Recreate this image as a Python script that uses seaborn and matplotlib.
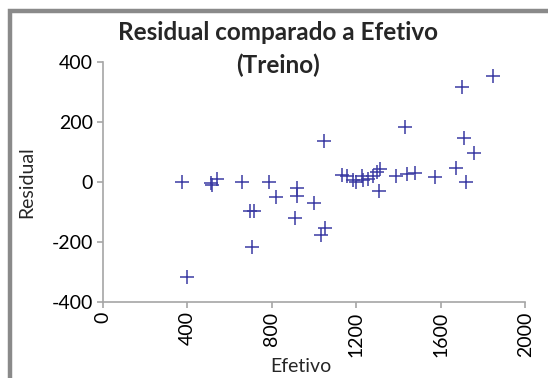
import matplotlib
matplotlib.use("Agg")
import matplotlib.pyplot as plt
import seaborn as sns
import pandas as pd
from matplotlib.patches import Rectangle

efetivo = [376, 399, 511, 518, 543, 660, 698, 718, 707, 789, 819, 912, 921, 921,
           998, 1047, 1031, 1054, 1134, 1155, 1183, 1197, 1226, 1233, 1257, 1281,
           1297, 1313, 1308, 1388, 1433, 1442, 1478, 1572, 1673, 1701, 1711, 1717,
           1755, 1846]
residual = [0, -319, -4, -10, 10, 0, -97, -97, -217, 0, -52, -119, -21, -47,
            -71, 135, -177, -155, 23, 18, 7, -2, 18, 7, 9, 18,
            34, 43, -29, 18, 183, 27, 29, 17, 47, 316, 145, 0,
            97, 354]

title_line1 = "Residual comparado a Efetivo"
title_line2 = "(Treino)"
xlabel = "Efetivo"
ylabel = "Residual"
xticks = [0, 400, 800, 1200, 1600, 2000]
yticks = [-400, -200, 0, 200, 400]

df = pd.DataFrame({"Efetivo": efetivo, "Residual": residual})

sns.set_theme(style="white")
plt.rcParams["font.family"] = ["Lato", "DejaVu Sans"]

W, H = 548, 378
fig = plt.figure(figsize=(W / 100, H / 100), dpi=100)
fig.patch.set_facecolor("white")
ax = fig.add_axes([102.7 / W, 1 - 301.7 / H, (525.3 - 102.7) / W, (301.7 - 62) / H])

sns.scatterplot(data=df, x="Efetivo", y="Residual", marker="+", s=95,
                color="#3B3BA3", linewidth=1.1, ax=ax, legend=False)

ax.set_xlim(0, 2000)
ax.set_ylim(-400, 400)
ax.set_xticks(xticks)
ax.set_yticks(yticks)
ax.set_xticklabels([str(t) for t in xticks], rotation=90, fontsize=14)
ax.set_yticklabels([str(t) for t in yticks], fontsize=14)
ax.set_xlabel("")
ax.set_ylabel("")
for s in ["top", "right"]:
    ax.spines[s].set_visible(False)
for s in ["left", "bottom"]:
    ax.spines[s].set_color("#A6A6A6")
    ax.spines[s].set_linewidth(1.2)
ax.tick_params(axis="both", which="both", direction="out", length=4, width=1.2,
               color="#A6A6A6", labelcolor="black", pad=3)
ax.tick_params(axis="x", bottom=True)
ax.tick_params(axis="y", left=True)

fig.text(278 / W, 1 - 32 / H, title_line1, ha="center", va="center",
         fontsize=17.5, fontweight="bold")
fig.text(278 / W, 1 - 65 / H, title_line2, ha="center", va="center",
         fontsize=17.5, fontweight="bold")
fig.text(301 / W, 1 - 366 / H, xlabel, ha="center", va="center", fontsize=14)
fig.text(27 / W, 1 - 182 / H, ylabel, ha="center", va="center", fontsize=14, rotation=90)

# outer chart frame (left and top edges visible; the rest is cropped)
fig.patches.append(Rectangle((10 / W, -0.1), 1.2, 1 - 10.5 / H + 0.1,
                             transform=fig.transFigure, fill=False,
                             edgecolor="#8A8A8A", linewidth=3.2, zorder=10))

fig.savefig("out.png", dpi=100, facecolor="white")
